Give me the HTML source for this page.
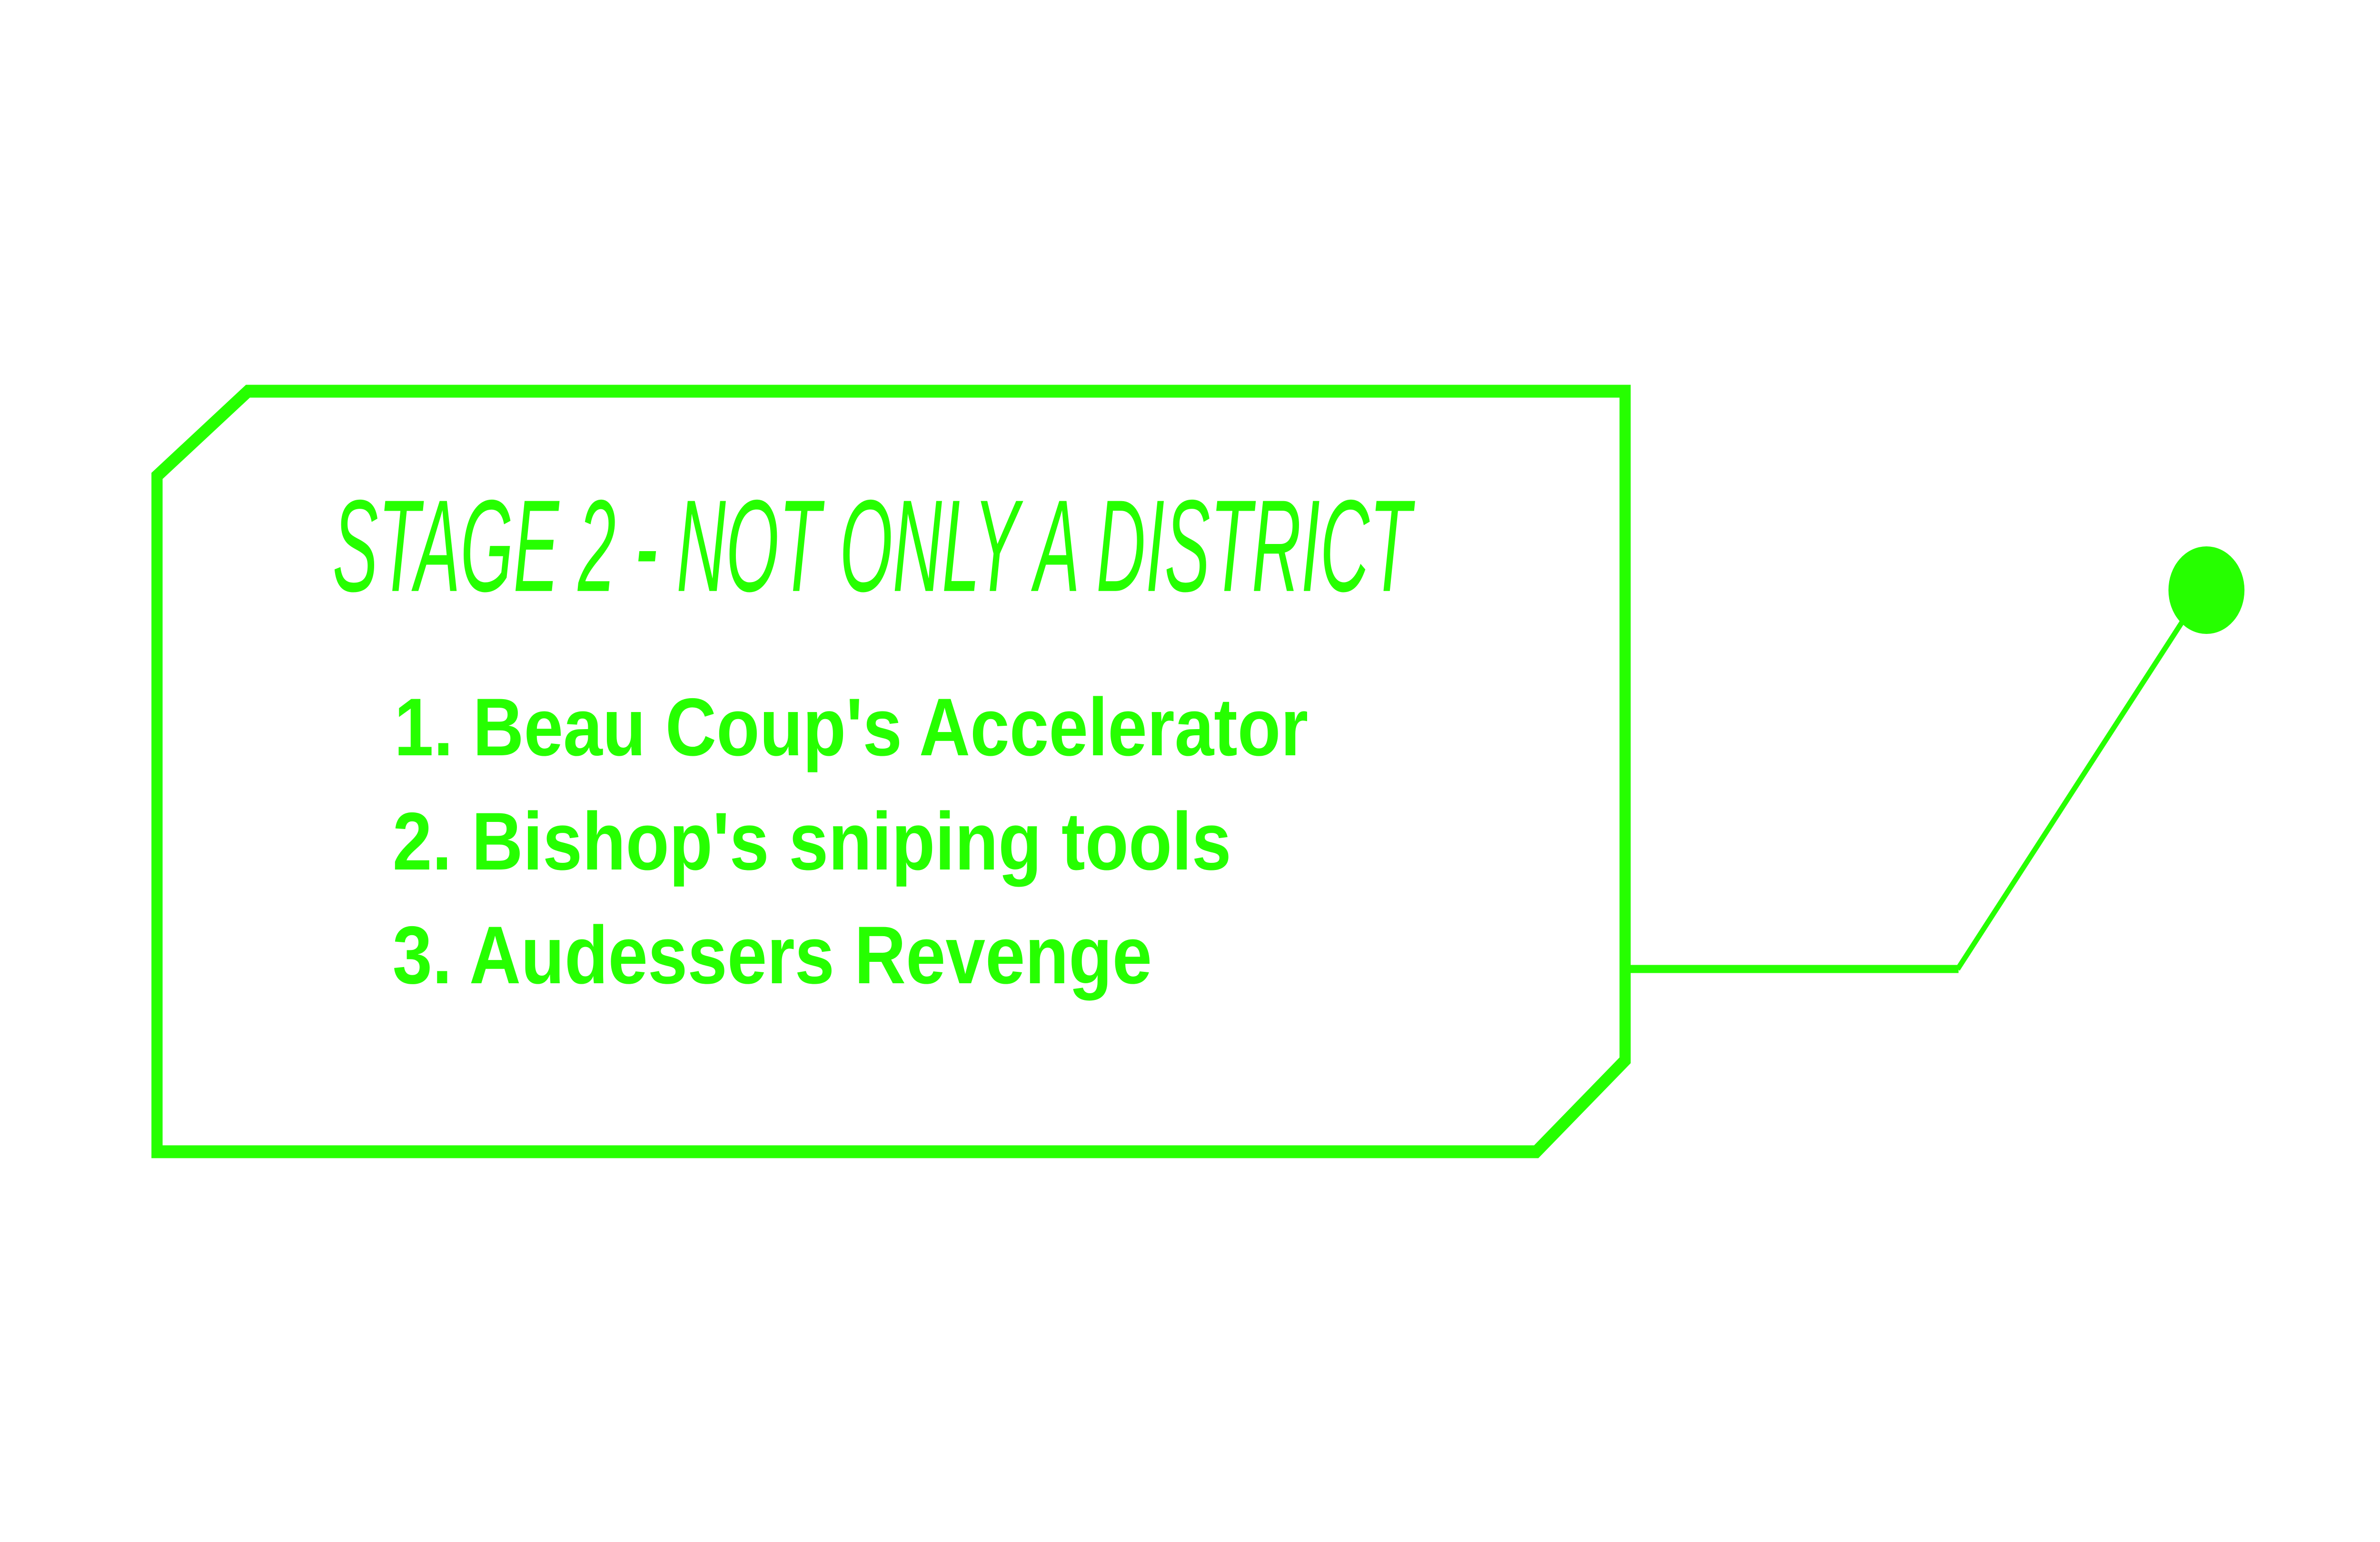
<!DOCTYPE html>
<html><head><meta charset="utf-8"><style>
html,body{margin:0;padding:0;background:#fff;width:100%;height:100%;overflow:hidden;}
svg{display:block;position:fixed;left:0;top:0;width:100vw;height:100vh;}
</style></head><body>
<svg viewBox="0 0 5760 3240" preserveAspectRatio="none" xmlns="http://www.w3.org/2000/svg">
<rect width="5760" height="3240" fill="#fff"/>
<polygon points="380,1000 600,822 3933,822 3933,2228 3718,2420 380,2420" fill="none" stroke="#26ff00" stroke-width="27" stroke-linejoin="miter"/>
<line x1="3933" y1="2036" x2="4740" y2="2036" stroke="#26ff00" stroke-width="17"/>
<line x1="4738" y1="2036" x2="5290" y2="1295" stroke="#26ff00" stroke-width="12"/>
<circle cx="5340" cy="1240" r="92" fill="#26ff00"/>
<text x="805" y="1238" font-family="Liberation Sans, sans-serif" font-style="italic" font-size="250" fill="#26ff00" textLength="2610" lengthAdjust="spacingAndGlyphs" transform="translate(0,-120) scale(1,1.1)">STAGE 2 - NOT ONLY A DISTRICT</text>
<g font-family="Liberation Sans, sans-serif" font-weight="bold" font-size="172" fill="#26ff00">
<text x="954" y="1587" textLength="2212" lengthAdjust="spacingAndGlyphs">1. Beau Coup's Accelerator</text>
<text x="950" y="1827" textLength="2030" lengthAdjust="spacingAndGlyphs">2. Bishop's sniping tools</text>
<text x="950" y="2066" textLength="1838" lengthAdjust="spacingAndGlyphs">3. Audessers Revenge</text>
</g>
</svg>
</body></html>
